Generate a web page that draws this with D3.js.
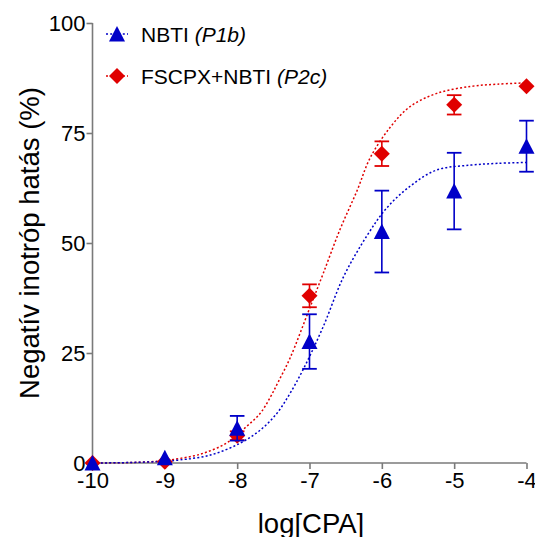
<!DOCTYPE html>
<html>
<head>
<meta charset="utf-8">
<script src="https://cdn.jsdelivr.net/npm/d3@7"></script>
<style>
  body { margin: 0; background: #fff; }
  svg { display: block; font-family: "Liberation Sans", Arial, sans-serif; }
  .axis path, .axis line { stroke: #7a7a7a; stroke-width: 1.6; }
  .axis text { font-size: 22px; fill: #000; font-family: "Liberation Sans", Arial, sans-serif; }
</style>
</head>
<body>
<div id="chart"></div>
<script>
// Dose-response chart: negative inotropic effect vs log[CPA]

// x positions (log[CPA])
var doses = [-10, -9, -8, -7, -6, -5, -4];

// NBTI (P1b) - blue triangles
var nbtiMean = [0, 1.2, 7.9, 27.6, 52.6, 61.8, 72.0];
var nbtiErr  = [0, 0, 2.8, 6.2, 9.3, 8.7, 5.8];

// FSCPX+NBTI (P2c) - red diamonds
var fscMean = [0, 0.3, 6.2, 38.0, 70.3, 81.4, 85.6];
var fscErr  = [0, 0, 1.0, 2.6, 2.8, 2.2, 0];

// fitted curves
var nbtiCurveX = [-10, -9.5, -9, -8.79, -8.37, -7.96, -7.68, -7.45, -7.27, -7.08, -6.81, -6.53, -6.2, -5.93, -5.61, -5.24, -4.77, -4.4, -4];
var nbtiCurveY = [0, 0.1, 0.4, 0.7, 1.8, 4.5, 7.5, 11.3, 15.8, 21.5, 31, 42.3, 51.8, 58.0, 62.9, 66.6, 67.7, 68.1, 68.3];
var fscCurveX = [-10, -9.5, -9, -8.88, -8.51, -8.14, -7.87, -7.68, -7.54, -7.43, -7.27, -6.99, -6.81, -6.58, -6.34, -6.16, -5.88, -5.61, -5.24, -4.77, -4.4, -4];
var fscCurveY = [0, 0.1, 0.5, 0.8, 2.0, 4.6, 8.3, 11.3, 15, 18.5, 23.8, 35.5, 43.1, 53, 62, 69.4, 76.4, 81, 84.0, 85.6, 86.1, 86.4];

var xTicks = [-10, -9, -8, -7, -6, -5, -4];
var yTicks = [0, 25, 50, 75, 100];

var width = 535, height = 537;
var plotLeft = 92.5, plotRight = 526.5, plotTop = 23, plotBottom = 463;

var blue = "#0000c8";
var red = "#e00000";

var svg = d3.select("#chart")
    .append("svg")
    .attr("width", width)
    .attr("height", height);

var xScale = d3.scaleLinear().domain([-10, -4]).range([plotLeft, plotRight]);
var yScale = d3.scaleLinear().domain([0, 100]).range([plotBottom, plotTop]);

// axes
var xAxis = d3.axisBottom(xScale).tickValues(xTicks).tickSize(6).tickPadding(3)
    .tickFormat(function(d) { return String(d); });
var yAxis = d3.axisLeft(yScale).tickValues(yTicks).tickSize(6).tickPadding(1)
    .tickFormat(function(d) { return String(d); });

svg.append("g")
    .attr("class", "axis xAxis")
    .attr("transform", "translate(0," + plotBottom + ")")
    .call(xAxis)
    .call(function(g) { g.select(".domain").attr("d", "M" + plotLeft + ",0H" + plotRight); });

svg.append("g")
    .attr("class", "axis yAxis")
    .attr("transform", "translate(" + plotLeft + ",0)")
    .call(yAxis)
    .call(function(g) { g.select(".domain").attr("d", "M0," + plotTop + "V" + plotBottom); })
    .selectAll("text").attr("dy", "0.36em");

// axis titles
svg.append("text")
    .attr("x", 311)
    .attr("y", 533)
    .attr("text-anchor", "middle")
    .style("font-size", "27.5px")
    .text("log[CPA]");

svg.append("text")
    .attr("transform", "translate(39,243)rotate(-90)")
    .attr("text-anchor", "middle")
    .style("font-size", "27.5px")
    .text("Negatív inotróp hatás (%)");

// curves
var line = d3.line()
    .x(function(d) { return xScale(d[0]); })
    .y(function(d) { return yScale(d[1]); })
    .curve(d3.curveCatmullRom);

function drawCurve(xs, ys, color) {
    svg.append("path")
        .datum(d3.zip(xs, ys))
        .attr("d", line)
        .attr("fill", "none")
        .attr("stroke", color)
        .attr("stroke-width", 1.5)
        .attr("stroke-dasharray", "2,2.2");
}
drawCurve(fscCurveX, fscCurveY, red);
drawCurve(nbtiCurveX, nbtiCurveY, blue);

var triangle = "M0,-8L8,7.5L-8,7.5Z";
var diamond = "M0,-8L8,0L0,8L-8,0Z";

function drawSeries(means, errs, color, marker) {
    var pts = d3.zip(doses, means, errs);
    var g = svg.append("g");
    var cap = 7.3;

    pts.forEach(function(p) {
        if (p[2] <= 0) return;
        var x = xScale(p[0]);
        var y1 = yScale(p[1] + p[2]);
        var y2 = yScale(p[1] - p[2]);
        g.append("line").attr("x1", x).attr("x2", x).attr("y1", y1).attr("y2", y2)
            .attr("stroke", color).attr("stroke-width", 1.6);
        g.append("line").attr("x1", x - cap).attr("x2", x + cap).attr("y1", y1).attr("y2", y1)
            .attr("stroke", color).attr("stroke-width", 1.8);
        g.append("line").attr("x1", x - cap).attr("x2", x + cap).attr("y1", y2).attr("y2", y2)
            .attr("stroke", color).attr("stroke-width", 1.8);
    });

    g.selectAll("path.marker")
        .data(pts)
        .enter()
        .append("path")
        .attr("class", "marker")
        .attr("d", marker)
        .attr("fill", color)
        .attr("transform", function(d) {
            return "translate(" + xScale(d[0]) + "," + yScale(d[1]) + ")";
        });
}
drawSeries(fscMean, fscErr, red, diamond);
drawSeries(nbtiMean, nbtiErr, blue, triangle);

// legend
var legend = [
    { name: "NBTI ", tag: "(P1b)", color: blue, marker: triangle, y: 34 },
    { name: "FSCPX+NBTI ", tag: "(P2c)", color: red, marker: diamond, y: 76 }
];

legend.forEach(function(l) {
    svg.append("line")
        .attr("x1", 106).attr("x2", 128).attr("y1", l.y).attr("y2", l.y)
        .attr("stroke", l.color).attr("stroke-width", 1.5)
        .attr("stroke-dasharray", "2,2.2");
    svg.append("path")
        .attr("d", l.marker)
        .attr("fill", l.color)
        .attr("transform", "translate(117," + l.y + ")");
    var t = svg.append("text")
        .attr("x", 141)
        .attr("y", l.y + 7.5)
        .style("font-size", "21px");
    t.append("tspan").text(l.name);
    t.append("tspan").style("font-style", "italic").text(l.tag);
});
</script>
</body>
</html>
